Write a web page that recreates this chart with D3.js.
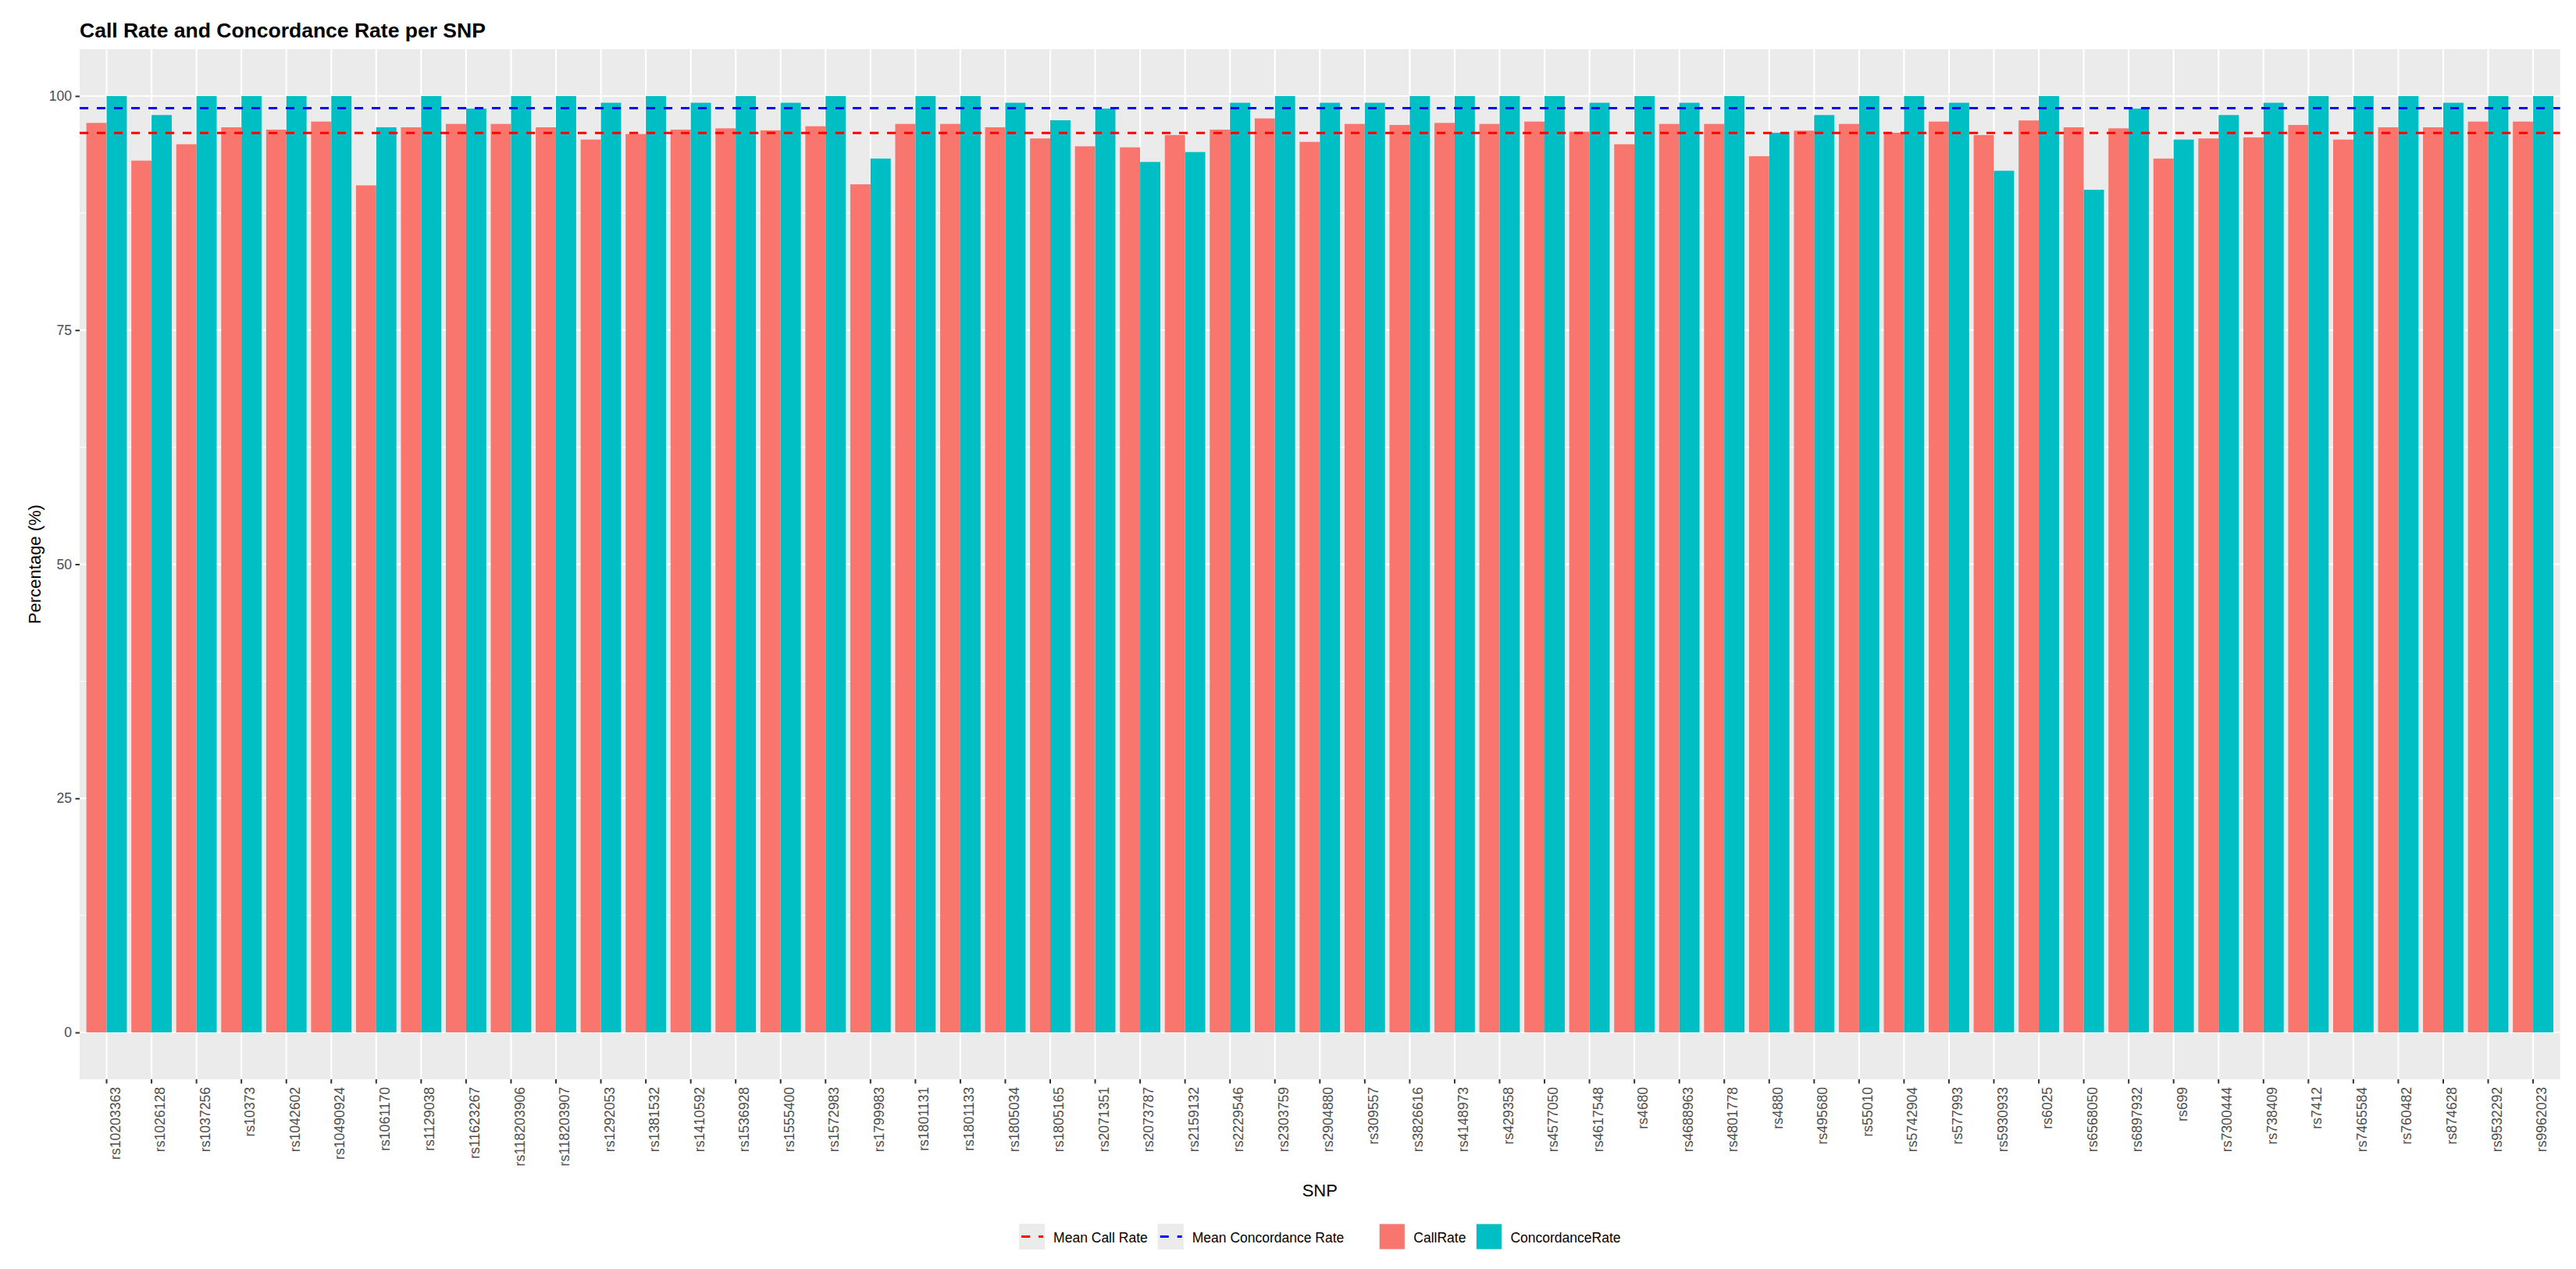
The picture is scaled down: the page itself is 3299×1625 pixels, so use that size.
<!DOCTYPE html>
<html>
<head>
<meta charset="utf-8">
<title>Call Rate and Concordance Rate per SNP</title>
<script src="https://cdn.jsdelivr.net/npm/d3@7"></script>
<style>
  body { margin: 0; background: #fff; }
  text { font-family: "Liberation Sans", Arial, sans-serif; font-weight: normal; }
</style>
</head>
<body>
<div id="chart"></div>
<script>
// categories (x axis)
const snps = [
  "rs10203363", "rs1026128", "rs1037256", "rs10373", "rs1042602", "rs10490924",
  "rs1061170", "rs1129038", "rs11623267", "rs118203906", "rs118203907", "rs1292053",
  "rs1381532", "rs1410592", "rs1536928", "rs1555400", "rs1572983", "rs1799983",
  "rs1801131", "rs1801133", "rs1805034", "rs1805165", "rs2071351", "rs2073787",
  "rs2159132", "rs2229546", "rs2303759", "rs2904880", "rs309557", "rs3826616",
  "rs4148973", "rs429358", "rs4577050", "rs4617548", "rs4680", "rs4688963",
  "rs4801778", "rs4880", "rs495680", "rs55010", "rs5742904", "rs577993",
  "rs5930933", "rs6025", "rs6568050", "rs6897932", "rs699", "rs7300444",
  "rs738409", "rs7412", "rs7465584", "rs760482", "rs874628", "rs9532292", "rs9962023"
];

// series values, in %
const callRate = [
  97.13, 93.10, 94.85, 96.66, 96.41, 97.27, 90.46, 96.66, 97.02, 97.02, 96.66, 95.35,
  95.94, 96.41, 96.55, 96.33, 96.77, 90.57, 97.02, 97.02, 96.66, 95.47, 94.63, 94.52,
  95.83, 96.41, 97.61, 95.10, 97.02, 96.91, 97.13, 97.02, 97.27, 96.19, 94.85, 97.02,
  97.02, 93.57, 96.30, 97.02, 96.08, 97.27, 95.83, 97.39, 96.66, 96.55, 93.32, 95.47,
  95.58, 96.91, 95.35, 96.66, 96.66, 97.27, 97.27
];
const concordanceRate = [
  100, 97.97, 100, 100, 100, 100, 96.66, 100, 98.66, 100, 100, 99.28,
  100, 99.28, 100, 99.28, 100, 93.32, 100, 100, 99.28, 97.41, 98.66, 92.96,
  94.02, 99.28, 100, 99.28, 99.28, 100, 100, 100, 100, 99.28, 100, 99.28,
  100, 96.08, 97.97, 100, 100, 99.28, 92.02, 100, 89.99, 98.66, 95.35, 97.97,
  99.28, 100, 100, 100, 99.28, 100, 100
];

const series = ["CallRate", "ConcordanceRate"];
const seriesColors = ["#F8766D", "#00BFC4"];
const meanLabels = ["Mean Call Rate", "Mean Concordance Rate"];
const meanColors = ["red", "blue"];
const yTicks = [0, 25, 50, 75, 100];
const yMinorTicks = [12.5, 37.5, 62.5, 87.5];

const width = 3299, height = 1625;
const panel = {left: 102, right: 3278.6, top: 63, bottom: 1382};

const svg = d3.select('#chart').append('svg')
  .attr('width', width)
  .attr('height', height);

svg.append('rect').attr('width', width).attr('height', height).attr('fill', '#fff');

// scales
const x0 = d3.scaleBand()
  .domain(snps)
  .range([panel.left, panel.right])
  .paddingInner(0.1)
  .paddingOuter(0.15);

const x1 = d3.scaleBand()
  .domain(series)
  .range([0, x0.bandwidth()]);

const y = d3.scaleLinear()
  .domain([-5, 105])
  .range([panel.bottom, panel.top]);

const color = d3.scaleOrdinal().domain(series).range(seriesColors);

const rows = snps.map((s, i) => ({snp: s, CallRate: callRate[i], ConcordanceRate: concordanceRate[i]}));

// panel background + grid
svg.append('rect')
  .attr('x', panel.left).attr('y', panel.top)
  .attr('width', panel.right - panel.left)
  .attr('height', panel.bottom - panel.top)
  .attr('fill', '#EBEBEB');

const grid = svg.append('g');
grid.selectAll('line.minor')
  .data(yMinorTicks)
  .enter().append('line')
  .attr('x1', panel.left).attr('x2', panel.right)
  .attr('y1', d => y(d)).attr('y2', d => y(d))
  .attr('stroke', '#fff').attr('stroke-width', 1);
grid.selectAll('line.major')
  .data(yTicks)
  .enter().append('line')
  .attr('x1', panel.left).attr('x2', panel.right)
  .attr('y1', d => y(d)).attr('y2', d => y(d))
  .attr('stroke', '#fff').attr('stroke-width', 2.1);
grid.selectAll('line.vmajor')
  .data(snps)
  .enter().append('line')
  .attr('x1', d => x0(d) + x0.bandwidth() / 2).attr('x2', d => x0(d) + x0.bandwidth() / 2)
  .attr('y1', panel.top).attr('y2', panel.bottom)
  .attr('stroke', '#fff').attr('stroke-width', 2.1);

// bars
const groups = svg.append('g')
  .selectAll('g')
  .data(rows)
  .enter().append('g')
  .attr('transform', d => `translate(${x0(d.snp)},0)`);

groups.selectAll('rect')
  .data(d => series.map(k => ({key: k, value: d[k]})))
  .enter().append('rect')
  .attr('x', d => x1(d.key))
  .attr('y', d => y(d.value))
  .attr('width', x1.bandwidth())
  .attr('height', d => y(0) - y(d.value))
  .attr('fill', d => color(d.key));

// mean lines
const means = [d3.mean(callRate), d3.mean(concordanceRate)];
svg.append('g')
  .selectAll('line')
  .data(means)
  .enter().append('line')
  .attr('x1', panel.left).attr('x2', panel.right)
  .attr('y1', d => y(d)).attr('y2', d => y(d))
  .attr('stroke', (d, i) => meanColors[i])
  .attr('stroke-width', 3)
  .attr('stroke-dasharray', '11,11');

// axes
const yAxis = svg.append('g')
  .attr('transform', `translate(${panel.left},0)`)
  .call(d3.axisLeft(y).tickValues(yTicks).tickSize(5.5).tickPadding(4.5));
yAxis.select('.domain').remove();
yAxis.selectAll('line').attr('stroke', '#333').attr('stroke-width', 2);
yAxis.selectAll('text')
  .attr('fill', '#4D4D4D')
  .style('font-size', '17.6px')
  .style('font-family', '"Liberation Sans", Arial, sans-serif');

const xAxis = svg.append('g')
  .attr('transform', `translate(0,${panel.bottom})`)
  .call(d3.axisBottom(x0).tickSize(5.5));
xAxis.select('.domain').remove();
xAxis.selectAll('line').attr('stroke', '#333').attr('stroke-width', 2);
xAxis.selectAll('text')
  .attr('fill', '#4D4D4D')
  .attr('transform', 'rotate(-90)')
  .attr('text-anchor', 'end')
  .attr('x', -10)
  .attr('y', 0)
  .attr('dy', '0.97em')
  .style('font-size', '17.6px')
  .style('font-family', '"Liberation Sans", Arial, sans-serif');

// titles
svg.append('text')
  .attr('x', panel.left).attr('y', 48.3)
  .style('font-size', '26.5px').style('font-weight', 'bold')
  .attr('fill', '#000')
  .text('Call Rate and Concordance Rate per SNP');

svg.append('text')
  .attr('x', (panel.left + panel.right) / 2).attr('y', 1532)
  .attr('text-anchor', 'middle')
  .style('font-size', '22px').style('font-weight', 'normal')
  .attr('fill', '#000')
  .text('SNP');

svg.append('text')
  .attr('transform', `translate(51.7,${(panel.top + panel.bottom) / 2}) rotate(-90)`)
  .attr('text-anchor', 'middle')
  .style('font-size', '22px').style('font-weight', 'normal')
  .attr('fill', '#000')
  .text('Percentage (%)');

// legend
const keySize = 33, keyTop = 1567, textGap = 11, itemGap = 13, legendGap = 45;
const legend = svg.append('g');
const items = [
  ...meanLabels.map((l, i) => ({label: l, kind: 'line', color: meanColors[i], group: 0})),
  ...series.map((s, i) => ({label: s, kind: 'fill', color: seriesColors[i], group: 1}))
];

let cursor = 0;
let prevGroup = 0;
items.forEach((it, i) => {
  if (i > 0) cursor += (it.group !== prevGroup ? legendGap : itemGap);
  prevGroup = it.group;
  const g = legend.append('g').attr('transform', `translate(${cursor},0)`);
  g.append('rect')
    .attr('x', 0).attr('y', keyTop)
    .attr('width', keySize).attr('height', keySize)
    .attr('fill', '#EBEBEB');
  if (it.kind === 'line') {
    g.append('line')
      .attr('x1', 3).attr('x2', keySize - 2)
      .attr('y1', keyTop + keySize / 2).attr('y2', keyTop + keySize / 2)
      .attr('stroke', it.color).attr('stroke-width', 3)
      .attr('stroke-dasharray', '11,11');
  } else {
    g.append('rect')
      .attr('x', 0.5).attr('y', keyTop + 0.5)
      .attr('width', keySize - 1).attr('height', keySize - 1)
      .attr('fill', it.color);
  }
  const t = g.append('text')
    .attr('x', keySize + textGap).attr('y', 1591)
    .style('font-size', '17.5px')
    .attr('fill', '#000')
    .text(it.label);
  cursor += keySize + textGap + t.node().getComputedTextLength();
});
const legendWidth = cursor;
legend.attr('transform', `translate(${(panel.left + panel.right) / 2 - legendWidth / 2},0)`);
</script>
</body>
</html>
